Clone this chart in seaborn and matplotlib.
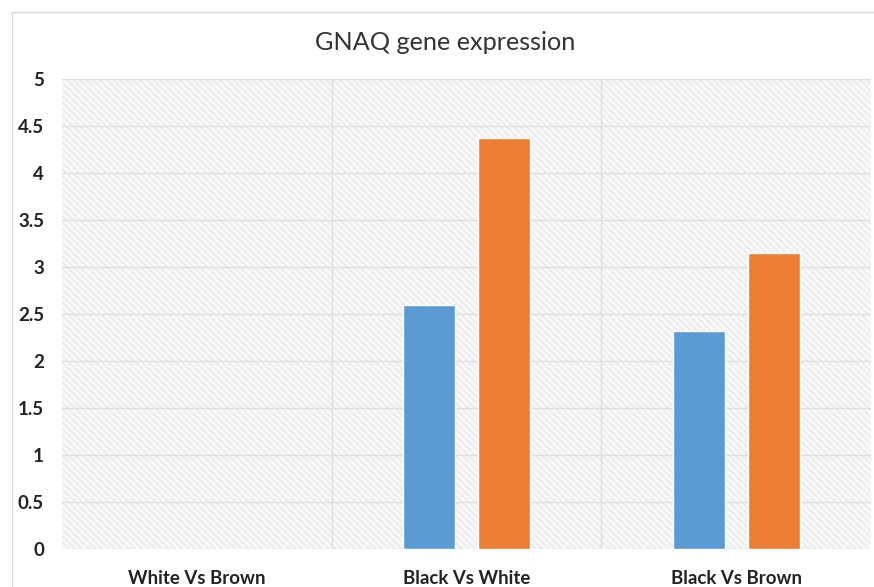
import matplotlib
matplotlib.use("Agg")
import matplotlib.pyplot as plt
import matplotlib.patches as mpatches
import seaborn as sns
import pandas as pd

categories = ["White Vs Brown", "Black Vs White", "Black Vs Brown"]
series_names = ["Series1", "Series2"]
series1 = [0, 2.60, 2.32]
series2 = [0, 4.37, 3.15]
yticks = [0, 0.5, 1, 1.5, 2, 2.5, 3, 3.5, 4, 4.5, 5]
ytick_labels = ["0", "0.5", "1", "1.5", "2", "2.5", "3", "3.5", "4", "4.5", "5"]
title = "GNAQ gene expression"

df = pd.DataFrame({
    "category": categories * 2,
    "series": [series_names[0]] * 3 + [series_names[1]] * 3,
    "value": series1 + series2,
})

sns.set_style("white")
plt.rcParams["font.family"] = ["Lato", "DejaVu Sans"]
plt.rcParams["hatch.color"] = "#e2e2e2"
plt.rcParams["hatch.linewidth"] = 0.6

fig = plt.figure(figsize=(8.74, 5.87), dpi=100)
# outer chart border
fig.patches.append(mpatches.Rectangle((12 / 874, -0.01), 1.0, 1 - 12 / 587 + 0.01,
                                      transform=fig.transFigure, fill=False,
                                      edgecolor="#d9d9d9", linewidth=1.0))
ax = fig.add_axes([62 / 874, 38 / 587, 809 / 874, 470 / 587])

# hatched plot-area background
ax.add_patch(mpatches.Rectangle((0, 0), 1, 1, transform=ax.transAxes,
                                facecolor="#f7f7f7", edgecolor="#e2e2e2",
                                hatch="\\\\\\\\\\", linewidth=0, zorder=0))

sns.barplot(data=df, x="category", y="value", hue="series", order=categories,
            hue_order=series_names, palette=["#5b9bd5", "#ed7d31"],
            saturation=1, width=0.557, gap=0.306, ax=ax, legend=False, zorder=3)

ax.set_ylim(0, 5)
ax.set_xlim(-0.5, 2.5)
ax.set_yticks(yticks)
ax.set_yticklabels(ytick_labels, fontsize=13.5, fontweight="bold", color="#222222")
ax.tick_params(axis="x", labelsize=13.4, length=0, pad=15, labelcolor="#222222")
for lbl in ax.get_xticklabels():
    lbl.set_fontweight("bold")
ax.tick_params(axis="y", length=0, pad=13)
ax.set_xlabel("")
ax.set_ylabel("")

for y in yticks[1:]:
    ax.axhline(y, color="#dedede", linewidth=1.0, zorder=1)
for x in [0.5, 1.5]:
    ax.axvline(x, color="#dedede", linewidth=1.0, zorder=1)
ax.axhline(0, color="#d9d9d9", linewidth=1.0, zorder=2)

for s in ax.spines.values():
    s.set_visible(False)

fig.text(0.5 + 8 / 874, 1 - 43 / 587, title, ha="center", va="center", fontsize=18.2, color="#333333")

fig.savefig("out.png", dpi=100, facecolor="white")
